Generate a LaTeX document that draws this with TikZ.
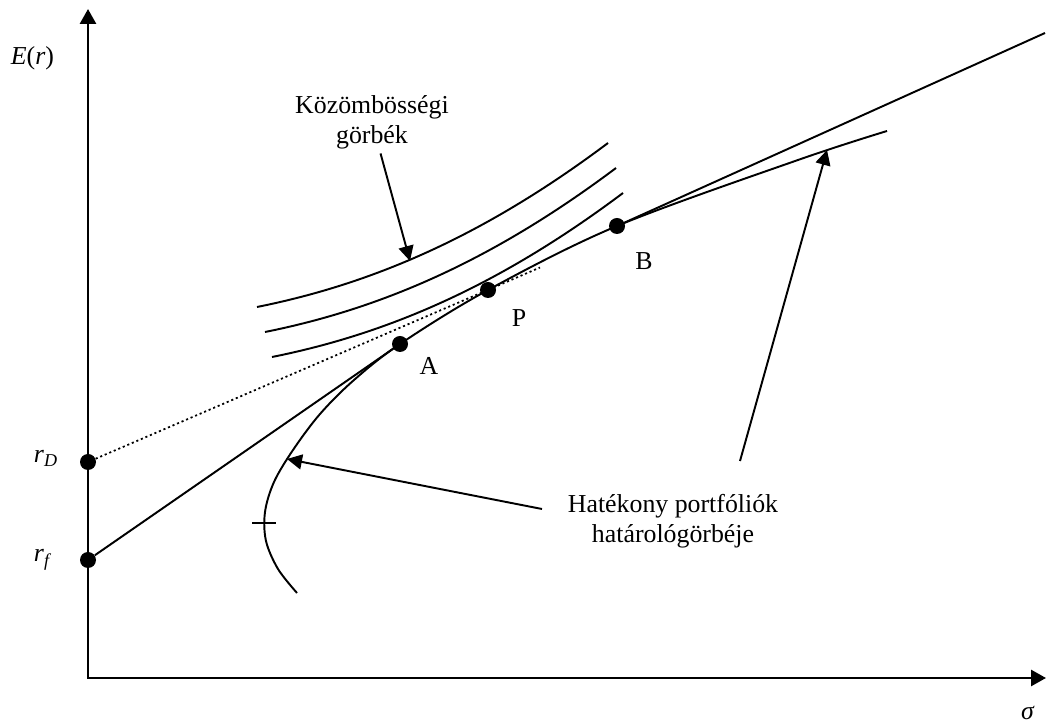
\documentclass[tikz,border=0pt]{standalone}
\usepackage{fontspec}
\setmainfont{Liberation Serif}
\usetikzlibrary{arrows.meta}
\tikzset{
  axis/.style={line width=1.6pt,
               {Triangle[length=3mm,width=3.2mm]}-{Triangle[length=3mm,width=3.2mm]}},
  curve/.style={line width=1.1pt},
  pointer/.style={line width=1.1pt, -{Triangle[length=3mm,width=3mm]}},
  dotnode/.style={circle, fill=black, inner sep=0pt, minimum size=3.2mm},
  lbl/.style={font=\fontsize{14.7}{17.6}\selectfont, inner sep=0pt, anchor=base, align=center},
}
\begin{document}
\begin{tikzpicture}
    \useasboundingbox (0,0) rectangle (20.94,14.44);
    % axes
    \coordinate (O) at (1.76,0.88);
    \coordinate (ytop) at (1.76,14.26);
    \coordinate (xend) at (20.92,0.88);
    \draw[axis] (ytop) -- (O) -- (xend);
    \node[lbl] (ylab) at (0.65,13.14) {\textit{E}(\textit{r})};
    \node[lbl] (xlab) at (20.56,0.06) {\textit{σ}};
    % points
    \node[dotnode] (rD) at (1.76,5.2) {};
    \node[dotnode] (rf) at (1.76,3.24) {};
    \node[dotnode] (A) at (8.0,7.56) {};
    \node[dotnode] (P) at (9.76,8.64) {};
    \node[dotnode] (B) at (12.34,9.92) {};
    \node[lbl] (rDlab) at (0.92,5.18) {\textit{r}\textsubscript{\textit{D}}};
    \node[lbl] (rflab) at (0.86,3.2) {\textit{r}\textsubscript{\textit{f}}};
    \node[lbl] (Alab) at (8.58,6.94) {A};
    \node[lbl] (Plab) at (10.38,7.9) {P};
    \node[lbl] (Blab) at (12.88,9.04) {B};
    % efficient frontier
    \draw[curve] plot[smooth, tension=0.55] coordinates {(5.94,2.58) (5.56,3.06) (5.32,3.62)
      (5.30,4.2) (5.48,4.8) (5.86,5.44) (6.4,6.16) (7.08,6.84) (A.center) (P.center)
      (B.center) (15.96,11.24) (17.74,11.82)};
    \draw[line width=0.7pt] (5.04,3.98) -- (5.52,3.98);
    % lending / borrowing lines
    \coordinate (bend) at (20.9,13.78);
    \coordinate (dend) at (10.8,9.09);
    \draw[curve] (rf) -- (A);
    \draw[curve] (B) -- (bend);
    \draw[line width=1pt, dash pattern=on 1.2pt off 1.6pt] (rD) -- (dend);
    % indifference curves
    \draw[curve] (5.14,8.3) .. controls (7.54,8.78) and (9.76,9.78) .. (12.16,11.58);
    \draw[curve] (5.30,7.8) .. controls (7.70,8.28) and (9.92,9.28) .. (12.32,11.08);
    \draw[curve] (5.44,7.3) .. controls (7.84,7.78) and (10.06,8.78) .. (12.46,10.58);
    % labels and pointers
    \node[lbl, inner sep=2pt] (indlab) at (7.44,11.56) {Közömbösségi\\görbék};
    \coordinate (indtip) at (8.2,9.22);
    \draw[pointer] (indlab) -- (indtip);
    \node[lbl] (frlab) at (13.46,3.58) {Hatékony portfóliók\\határológörbéje};
    \coordinate (frtail1) at (10.84,4.26);
    \coordinate (frtip1) at (5.74,5.26);
    \coordinate (frtail2) at (14.8,5.22);
    \coordinate (frtip2) at (16.54,11.44);
    \draw[pointer] (frtail1) -- (frtip1);
    \draw[pointer] (frtail2) -- (frtip2);
\end{tikzpicture}
\end{document}
